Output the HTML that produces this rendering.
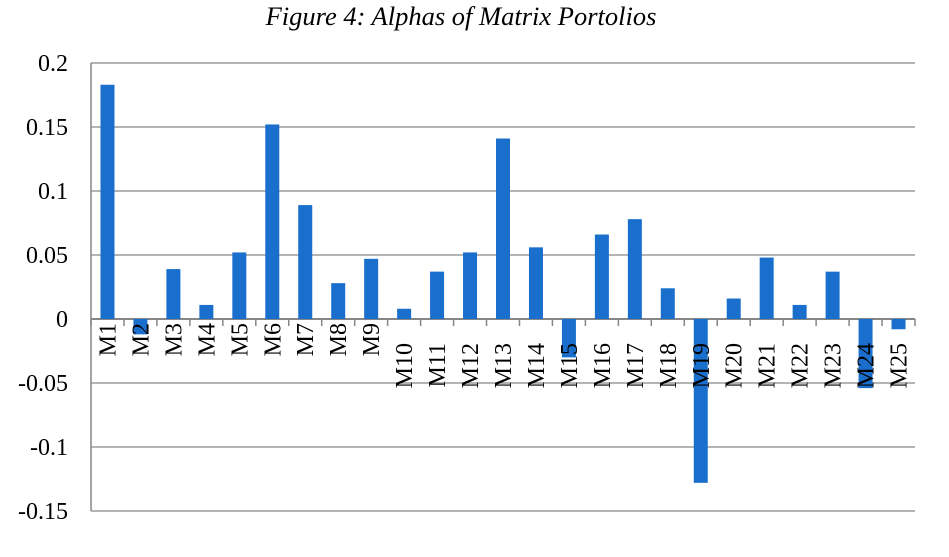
<!DOCTYPE html>
<html><head><meta charset="utf-8"><style>
body{margin:0;background:#fff;width:949px;height:552px;overflow:hidden}
svg{font-family:"Liberation Serif",serif}
</style></head><body>
<svg id="c" width="949" height="552">
<text x="461" y="25" text-anchor="middle" font-size="26.5" font-style="italic">Figure 4: Alphas of Matrix Portolios</text>
</svg>
<script>
const categories=["M1","M2","M3","M4","M5","M6","M7","M8","M9","M10","M11","M12","M13","M14","M15","M16","M17","M18","M19","M20","M21","M22","M23","M24","M25"];
const alphas=[0.183,-0.012,0.039,0.011,0.052,0.152,0.089,0.028,0.047,0.008,0.037,0.052,0.141,0.056,-0.030,0.066,0.078,0.024,-0.128,0.016,0.048,0.011,0.037,-0.054,-0.008];
const ticks=[0.2,0.15,0.1,0.05,0,-0.05,-0.1,-0.15];
const tickLabels=["0.2","0.15","0.1","0.05","0","-0.05","-0.1","-0.15"];
const svg=document.getElementById('c');
const NS="http://www.w3.org/2000/svg";
const L=91,R=915,T=63,B=511,ymax=0.2,ymin=-0.15;
const y=v=>T+(ymax-v)/(ymax-ymin)*(B-T);
const bw=(R-L)/categories.length;
const x=i=>L+bw*i;
function mk(t,a){const e=document.createElementNS(NS,t);for(const k in a)e.setAttribute(k,a[k]);svg.appendChild(e);return e;}
ticks.forEach((v,i)=>{
 const g=mk('line',{x1:L,x2:R,y1:y(v),y2:y(v),stroke:'#868686','stroke-width':v===0?2:1.3});
 
 
 const t=mk('text',{x:68,y:y(v)+8,'text-anchor':'end','font-size':24});
 t.textContent=tickLabels[i];
 
 
});
const ax=mk('line',{x1:L,x2:L,y1:T,y2:B,stroke:'#868686','stroke-width':1.5});


for(let i=0;i<=categories.length;i++){
 const tk=mk('line',{x1:x(i),x2:x(i),y1:y(0),y2:y(0)+7,stroke:'#868686','stroke-width':1.5});
 
 
}
alphas.forEach((v,i)=>{
 const cx=x(i)+bw/2,w=14;
 const b=mk('rect',{x:cx-w/2,y:Math.min(y(v),y(0)),width:w,height:Math.abs(y(v)-y(0)),fill:'#1a6fcc'});
 
 
});
categories.forEach((c,i)=>{
 const cx=x(i)+bw/2+8,ty=c.length>2?343:323;
 const t=mk('text',{x:0,y:0,'text-anchor':'end','font-size':24,transform:`translate(${cx},${ty}) rotate(-90)`});
 t.textContent=c;
 
 
});
</script>
</body></html>
